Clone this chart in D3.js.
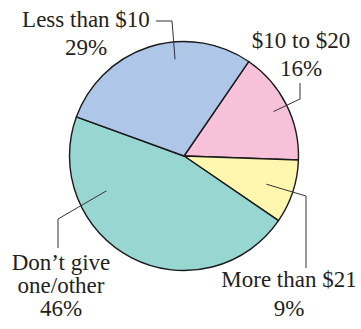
<!DOCTYPE html>
<html>
<head>
<meta charset="utf-8">
<script src="https://cdn.jsdelivr.net/npm/d3@7"></script>
<style>
  body { margin: 0; background: #fff; }
  text { font-family: "Liberation Serif", "Times New Roman", serif; fill: #231f20; }
</style>
</head>
<body>
<div id="chart"></div>
<script>
// data, clockwise from the slice that starts at ~34 degrees
const categories = ["$10 to $20", "More than $21", "Don\u2019t give one/other", "Less than $10"];
const percents = [16, 9, 46, 29];
const colors = ["#f7c1da", "#fff7b0", "#98d6d2", "#aec6e8"];

// label layout: text lines, text position, leader anchor (polar) and bends
const labelLines = [["$10 to $20", "16%"], ["More than $21", "9%"], ["Don\u2019t give", "one/other", "46%"], ["Less than $10", "29%"]];
const labelPos = [[301, 48], [289, 287], [61, 270], [86, 27]];
const labelLineGap = [28, 29, 23, 28];
const anchorPolar = [[63.6, 100], [108.9, 87], [245.8, 85], [-5.3, 97]];
const leaderBends = [
  [[300, 99], [300, 83]],
  [[306, 196], [306, 268]],
  [[58, 219], [58, 248]],
  [[172, 21], [156, 21]]
];

const width = 361, height = 329;
const cx = 184, cy = 156, radius = 114.5;

const svg = d3.select("#chart").append("svg")
  .attr("width", width)
  .attr("height", height);

const pie = d3.pie().sort(null).value(d => d)
  .startAngle(34.4 * Math.PI / 180)
  .endAngle(34.4 * Math.PI / 180 + 2 * Math.PI);

const arc = d3.arc().innerRadius(0).outerRadius(radius);

const g = svg.append("g").attr("transform", `translate(${cx},${cy})`);

g.selectAll("path")
  .data(pie(percents))
  .join("path")
  .attr("d", arc)
  .attr("fill", (d, i) => colors[i])
  .attr("stroke", "#1a1a1a")
  .attr("stroke-width", 1.4)
  .attr("stroke-linejoin", "round");

// leader lines
const line = d3.line();
categories.forEach((c, i) => {
  const a = anchorPolar[i][0] * Math.PI / 180, r = anchorPolar[i][1];
  const start = [cx + r * Math.sin(a), cy - r * Math.cos(a)];
  svg.append("path")
    .attr("d", line([start, ...leaderBends[i]]))
    .attr("fill", "none")
    .attr("stroke", "#333")
    .attr("stroke-width", 1);
});

// labels
labelLines.forEach((lines, i) => {
  const t = svg.append("text")
    .attr("text-anchor", "middle")
    .attr("font-size", 23);
  lines.forEach((s, j) => {
    t.append("tspan")
      .attr("x", labelPos[i][0])
      .attr("y", labelPos[i][1] + j * labelLineGap[i])
      .text(s);
  });
});
</script>
</body>
</html>
